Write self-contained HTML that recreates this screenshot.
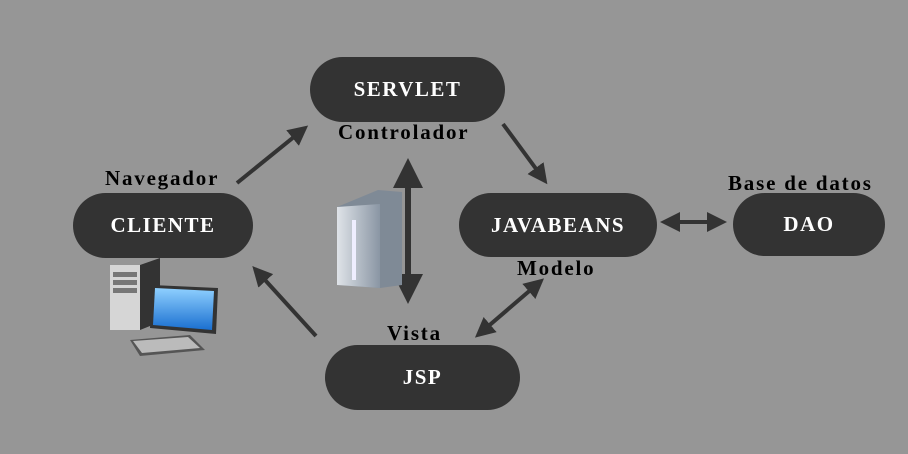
<!DOCTYPE html>
<html><head><meta charset="utf-8"><style>
html,body{margin:0;padding:0;}
body{width:908px;height:454px;background:#969696;position:relative;overflow:hidden;font-family:"Liberation Serif",serif;font-weight:bold;}
.b{position:absolute;background:#333;border-radius:33px;color:#fff;display:flex;align-items:center;justify-content:center;font-size:21px;letter-spacing:1.5px;}
.l{position:absolute;color:#000;font-size:21px;line-height:1;white-space:nowrap;letter-spacing:1.8px;}
svg{position:absolute;left:0;top:0;}
</style></head><body>
<svg width="908" height="454">
<defs>
<marker id="a" markerWidth="6" markerHeight="6" refX="4" refY="3" orient="auto-start-reverse" markerUnits="strokeWidth"><path d="M0,0.5 L5,3 L0,5.5 z" fill="#333"/></marker>
<linearGradient id="g" x1="0" x2="1"><stop offset="0" stop-color="#dfe3e8"/><stop offset="1" stop-color="#8a96a4"/></linearGradient>
<linearGradient id="s" x1="0" y1="0" x2="0" y2="1"><stop offset="0" stop-color="#8fd0ff"/><stop offset="1" stop-color="#1a6fd0"/></linearGradient>
</defs>
<g stroke="#333" stroke-width="4" fill="none">
<line x1="237" y1="183" x2="305" y2="128" marker-end="url(#a)"/>
<line x1="503" y1="124" x2="545" y2="181" marker-end="url(#a)"/>
<line x1="316" y1="336" x2="255" y2="269" marker-end="url(#a)"/>
<line x1="478" y1="335" x2="541" y2="281" marker-end="url(#a)" marker-start="url(#a)"/>
<line x1="408" y1="164" x2="408" y2="298" stroke-width="6" marker-end="url(#a)" marker-start="url(#a)"/>
<line x1="664" y1="222" x2="723" y2="222" marker-end="url(#a)" marker-start="url(#a)"/>
</g>
<path d="M337,207 L378,190 L402,192 L402,285 L380,288 L337,285 z" fill="#7f8a96"/>
<path d="M337,207 L380,204 L380,288 L337,285 z" fill="url(#g)"/>
<rect x="352" y="220" width="4" height="60" fill="#eef"/>
<rect x="110" y="265" width="30" height="65" fill="#d6d6d6"/>
<path d="M140,265 L160,258 L160,322 L140,330 z" fill="#333"/>
<rect x="113" y="272" width="24" height="5" fill="#777"/><rect x="113" y="280" width="24" height="5" fill="#777"/><rect x="113" y="288" width="24" height="5" fill="#777"/>
<path d="M152,285 L218,288 L216,334 L150,328 z" fill="#333"/>
<path d="M155,288 L214,291 L212,330 L153,325 z" fill="url(#s)"/>
<path d="M130,340 L190,335 L205,350 L140,356 z" fill="#555"/>
<path d="M133,341 L188,337 L200,348 L142,353 z" fill="#bbb"/>
</svg>
<div class="b" style="left:310px;top:57px;width:195px;height:65px;">SERVLET</div>
<div class="b" style="left:73px;top:193px;width:180px;height:65px;">CLIENTE</div>
<div class="b" style="left:459px;top:193px;width:198px;height:64px;">JAVABEANS</div>
<div class="b" style="left:733px;top:193px;width:152px;height:63px;">DAO</div>
<div class="b" style="left:325px;top:345px;width:195px;height:65px;">JSP</div>
<div class="l" style="left:338px;top:122px;">Controlador</div>
<div class="l" style="left:105px;top:168px;">Navegador</div>
<div class="l" style="left:728px;top:173px;">Base de datos</div>
<div class="l" style="left:517px;top:258px;">Modelo</div>
<div class="l" style="left:387px;top:323px;">Vista</div>
</body></html>
